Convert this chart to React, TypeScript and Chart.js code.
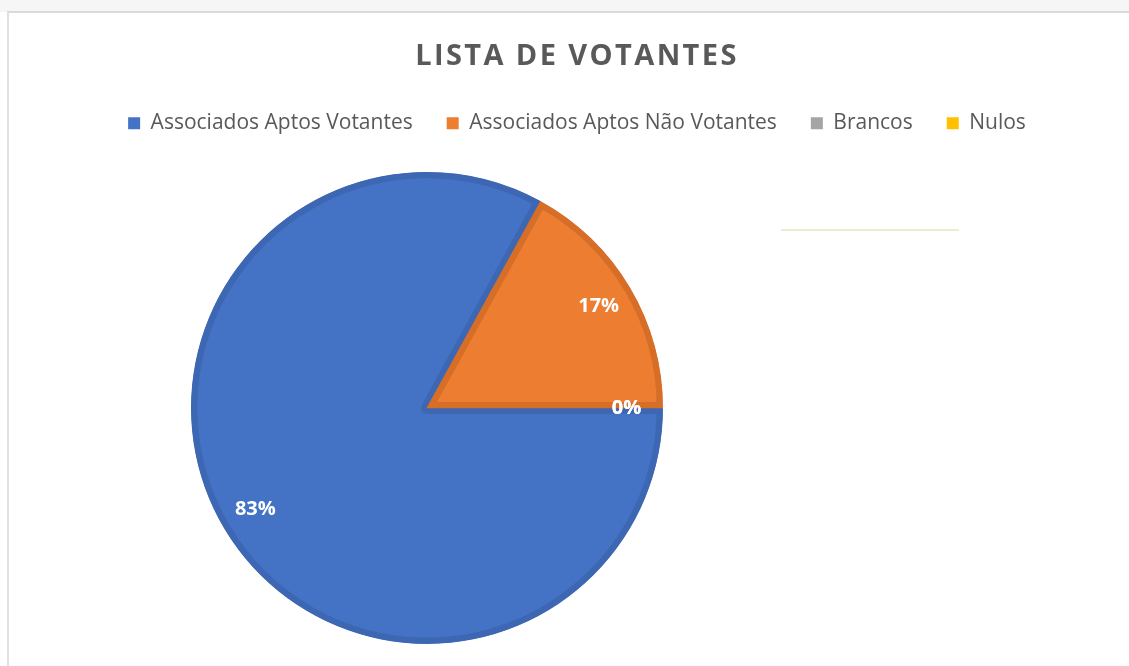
import React, { useEffect, useRef } from 'react';
import { Chart, registerables } from 'chart.js';

Chart.register(...registerables);

const chartTitle = 'LISTA DE VOTANTES';
const categories = ['Associados Aptos Votantes', 'Associados Aptos Não Votantes', 'Brancos', 'Nulos'];
const values = [83, 17, 0, 0];
const fillColors = ['#4472C4', '#ED7D31', '#A5A5A5', '#FFC000'];
const edgeColors = ['#3D67B3', '#D66E28', '#959595', '#E6AD00'];

const FONT = "'Open Sans', 'DejaVu Sans', sans-serif";

const pctLabels = {
  id: 'pctLabels',
  afterDatasetsDraw(chart: any) {
    const meta = chart.getDatasetMeta(0);
    const data = chart.data.datasets[0].data as number[];
    const total = data.reduce((a, b) => a + b, 0);
    const ctx = chart.ctx;
    ctx.save();
    ctx.fillStyle = '#ffffff';
    ctx.font = `bold 20px ${FONT}`;
    ctx.textAlign = 'center';
    ctx.textBaseline = 'middle';
    meta.data.forEach((arc: any, i: number) => {
      const p = arc.getProps(['x', 'y', 'startAngle', 'endAngle', 'outerRadius'], true);
      const mid = (p.startAngle + p.endAngle) / 2;
      const r = p.outerRadius * 0.845;
      const label = Math.round((data[i] / total) * 100) + '%';
      ctx.fillText(label, p.x + Math.cos(mid) * r, p.y + Math.sin(mid) * r);
    });
    ctx.restore();
  },
};

const layoutTweaks = {
  id: 'layoutTweaks',
  beforeInit(chart: any) {
    const legend = chart.legend;
    const origFit = legend.fit;
    legend.fit = function () {
      origFit.call(this);
      this.height += 28;
    };
    const tb = chart.titleBlock;
    if (tb) {
      const origDraw = tb.draw;
      tb.draw = function () {
        const ctx = this.ctx || chart.ctx;
        const prev = (ctx as any).letterSpacing;
        (ctx as any).letterSpacing = '2.4px';
        origDraw.call(this);
        (ctx as any).letterSpacing = prev || '0px';
      };
    }
  },
};

export default function App() {
  const ref = useRef<HTMLCanvasElement | null>(null);

  useEffect(() => {
    if (!ref.current) return;
    const chart = new Chart(ref.current, {
      type: 'pie',
      data: {
        labels: categories,
        datasets: [
          {
            data: values,
            backgroundColor: fillColors,
            borderColor: edgeColors,
            borderWidth: 6,
            borderAlign: 'inner',
            hoverOffset: 0,
            offset: 0,
          } as any,
        ],
      },
      options: {
        responsive: false,
        animation: false,
        rotation: 90,
        radius: 236,
        layout: { padding: { left: 25, right: 0, top: 0, bottom: 22 } },
        plugins: {
          title: {
            display: true,
            text: chartTitle,
            color: '#595959',
            font: { family: FONT, size: 29, weight: 'bold' as any },
            padding: { top: 39, bottom: 5 },
          },
          subtitle: {
            display: true,
            position: 'right',
            fullSize: false,
            text: ' ',
            color: 'rgba(0,0,0,0)',
            font: { family: FONT, size: 10 },
            padding: { top: 0, bottom: 288 },
          },
          legend: {
            position: 'top',
            labels: {
              color: '#595959',
              font: { family: FONT, size: 21 },
              boxWidth: 12,
              boxHeight: 12,
              padding: 34,
              generateLabels(chart: any) {
                const base = (Chart as any).overrides.pie.plugins.legend.labels.generateLabels(chart);
                return base.map((l: any) => ({ ...l, lineWidth: 0, strokeStyle: l.fillStyle }));
              },
            },
          },
          tooltip: { enabled: false },
        },
      } as any,
      plugins: [pctLabels, layoutTweaks],
    });
    return () => chart.destroy();
  }, []);

  return (
    <div style={{ position: 'fixed', left: 0, top: 0, width: 1129, height: 666, background: '#ffffff', overflow: 'hidden' }}>
      <div style={{ position: 'absolute', left: 0, top: 0, width: 1129, height: 12, background: '#f6f6f6' }} />
      <div
        style={{
          position: 'absolute',
          left: 7,
          top: 11,
          width: 1140,
          height: 700,
          borderLeft: '2px solid #e2e2e2',
          borderTop: '2px solid #dadada',
        }}
      />
      <div style={{ position: 'absolute', left: 781, top: 229, width: 178, height: 2, background: '#e9edd2' }} />
      <canvas ref={ref} width={1129} height={666} style={{ position: 'absolute', left: 0, top: 0, width: 1129, height: 666 }} />
    </div>
  );
}
